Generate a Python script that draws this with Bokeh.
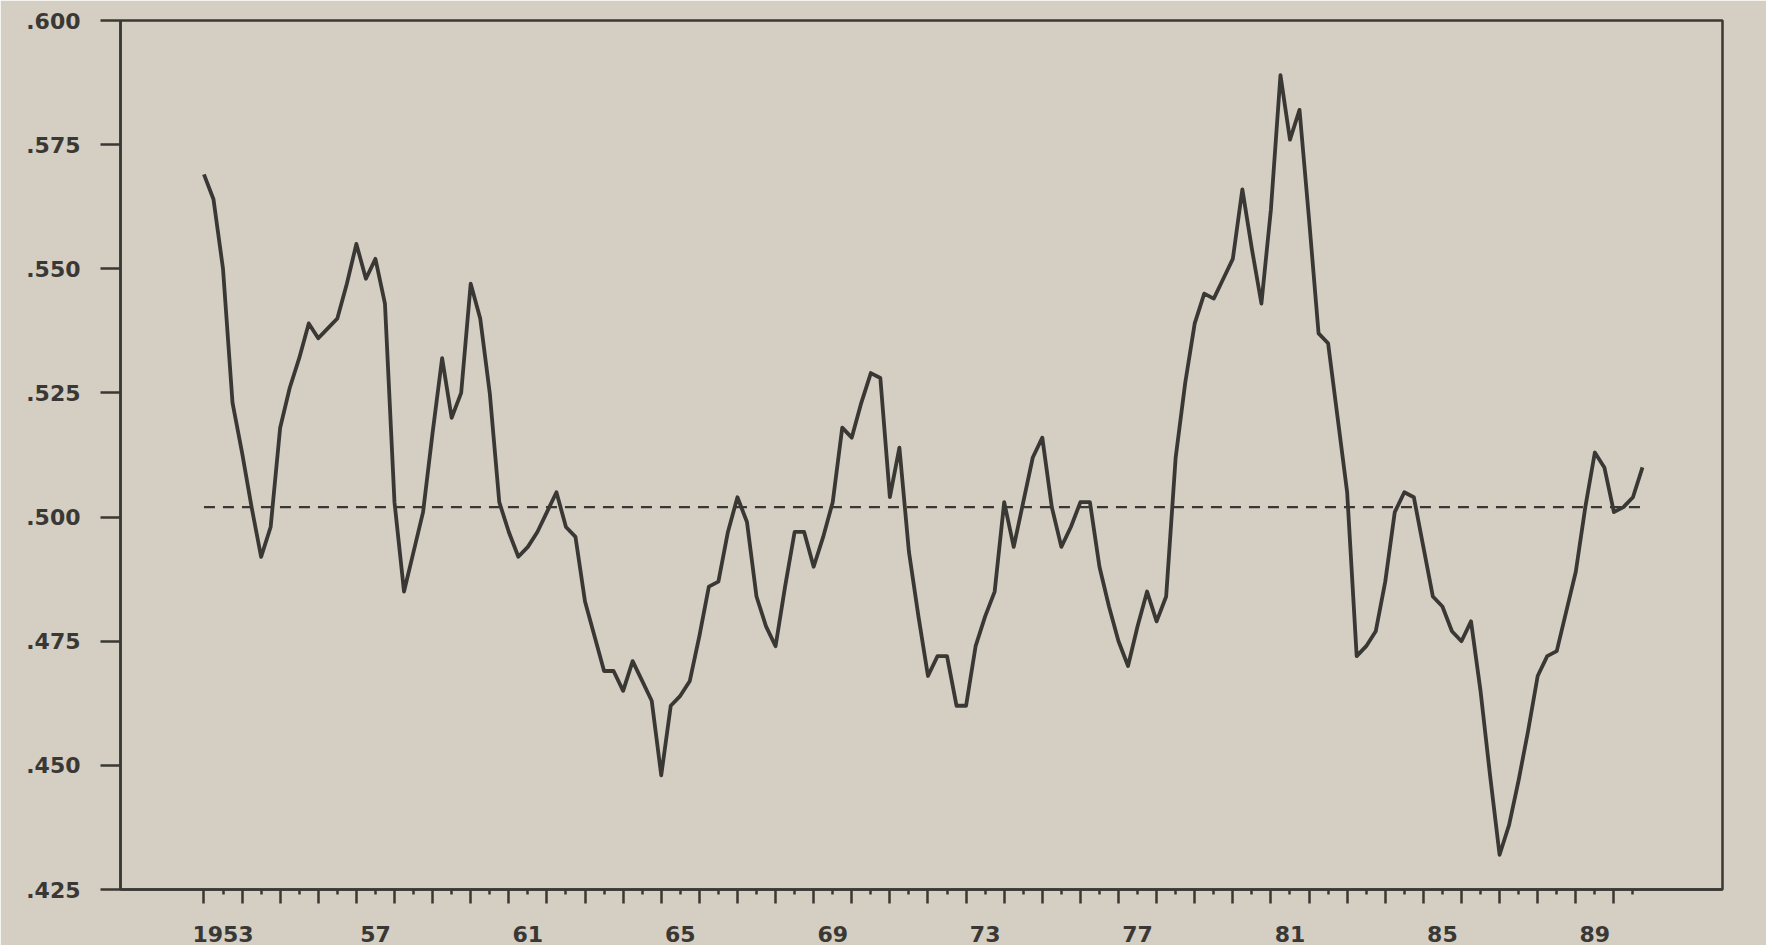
from bokeh.plotting import figure
from bokeh.models import FixedTicker, CustomJSTickFormatter, Range1d
from bokeh.embed import file_html
from bokeh.resources import INLINE

# ---- data (quarterly, 1952Q3 .. 1990Q2) ----
START_YEAR = 1952
START_QUARTER = 3

RATIO = [
    0.569, 0.564, 0.550, 0.523, 0.513, 0.502, 0.492, 0.498, 0.518, 0.526,
    0.532, 0.539, 0.536, 0.538, 0.540, 0.547, 0.555, 0.548, 0.552, 0.543,
    0.503, 0.485, 0.493, 0.501, 0.517, 0.532, 0.520, 0.525, 0.547, 0.540,
    0.525, 0.503, 0.497, 0.492, 0.494, 0.497, 0.501, 0.505, 0.498, 0.496,
    0.483, 0.476, 0.469, 0.469, 0.465, 0.471, 0.467, 0.463, 0.448, 0.462,
    0.464, 0.467, 0.476, 0.486, 0.487, 0.497, 0.504, 0.499, 0.484, 0.478,
    0.474, 0.486, 0.497, 0.497, 0.490, 0.496, 0.503, 0.518, 0.516, 0.523,
    0.529, 0.528, 0.504, 0.514, 0.493, 0.480, 0.468, 0.472, 0.472, 0.462,
    0.462, 0.474, 0.480, 0.485, 0.503, 0.494, 0.503, 0.512, 0.516, 0.502,
    0.494, 0.498, 0.503, 0.503, 0.490, 0.482, 0.475, 0.470, 0.478, 0.485,
    0.479, 0.484, 0.512, 0.527, 0.539, 0.545, 0.544, 0.548, 0.552, 0.566,
    0.554, 0.543, 0.562, 0.589, 0.576, 0.582, 0.560, 0.537, 0.535, 0.520,
    0.505, 0.472, 0.474, 0.477, 0.487, 0.501, 0.505, 0.504, 0.494, 0.484,
    0.482, 0.477, 0.475, 0.479, 0.465, 0.448, 0.432, 0.438, 0.447, 0.457,
    0.468, 0.472, 0.473, 0.481, 0.489, 0.502, 0.513, 0.510, 0.501, 0.502,
    0.504, 0.510,
]
MEAN_LEVEL = 0.502

Y_TICKS = [0.425, 0.450, 0.475, 0.500, 0.525, 0.550, 0.575, 0.600]
YEAR_TICKS = list(range(1953, 1991))                     # short ticks
HALF_YEAR_TICKS = [y + 0.5 for y in range(1952, 1990)]   # tall ticks
LABELED_YEARS = [1953, 1957, 1961, 1965, 1969, 1973, 1977, 1981, 1985, 1989]
X_LABELS = ["1953", "57", "61", "65", "69", "73", "77", "81", "85", "89"]

# quarter dates
dates = []
yr, qt = START_YEAR, START_QUARTER
for _ in RATIO:
    dates.append(yr + (qt - 1) / 4.0)
    qt += 1
    if qt > 4:
        qt = 1
        yr += 1

INK = "#3a3834"
PAPER = "#d4cec3"

p = figure(width=1766, height=945,
           x_range=Range1d(1950.31, 1992.35), y_range=Range1d(0.425, 0.600),
           output_backend="svg", toolbar_location=None,
           min_border_left=120, min_border_right=44,
           min_border_top=20, min_border_bottom=56)

p.background_fill_color = PAPER
p.border_fill_color = PAPER
p.outline_line_color = INK
p.outline_line_width = 2.5
p.xgrid.visible = False
p.ygrid.visible = False

# x axis
p.xaxis.ticker = FixedTicker(ticks=YEAR_TICKS, minor_ticks=HALF_YEAR_TICKS)
p.xaxis.formatter = CustomJSTickFormatter(
    args=dict(years=LABELED_YEARS, labels=X_LABELS),
    code="""
    const r = Math.round(tick);
    if (Math.abs(tick - r) > 1e-6) { return ''; }
    const i = years.indexOf(r);
    return i >= 0 ? labels[i] : '';
    """)
p.xaxis.major_tick_in = 0
p.xaxis.major_tick_out = 5
p.xaxis.minor_tick_in = 0
p.xaxis.minor_tick_out = 14
p.xaxis.major_label_standoff = 22

# y axis
p.yaxis.ticker = FixedTicker(ticks=Y_TICKS, minor_ticks=[])
p.yaxis.formatter = CustomJSTickFormatter(
    code="return tick.toFixed(3).replace(/^0/, '');")
p.yaxis.major_tick_in = 0
p.yaxis.major_tick_out = 20
p.yaxis.minor_tick_out = 0
p.yaxis.minor_tick_in = 0
p.yaxis.major_label_standoff = 20

for ax in (p.xaxis, p.yaxis):
    ax.axis_line_color = INK
    ax.axis_line_width = 2.5
    ax.major_tick_line_color = INK
    ax.major_tick_line_width = 2.5
    ax.minor_tick_line_color = INK
    ax.minor_tick_line_width = 2.5
    ax.major_label_text_font = "DejaVu Sans"
    ax.major_label_text_font_style = "bold"
    ax.major_label_text_font_size = "22px"
    ax.major_label_text_color = INK

# mean (dashed) line across the sample
p.line([dates[0], dates[-1]], [MEAN_LEVEL, MEAN_LEVEL],
       line_color=INK, line_width=2.4, line_dash="11 8")

# series
p.line(dates, RATIO, line_color=INK, line_width=3.8, line_join="round")

open("out.html", "w").write(file_html(p, INLINE))
